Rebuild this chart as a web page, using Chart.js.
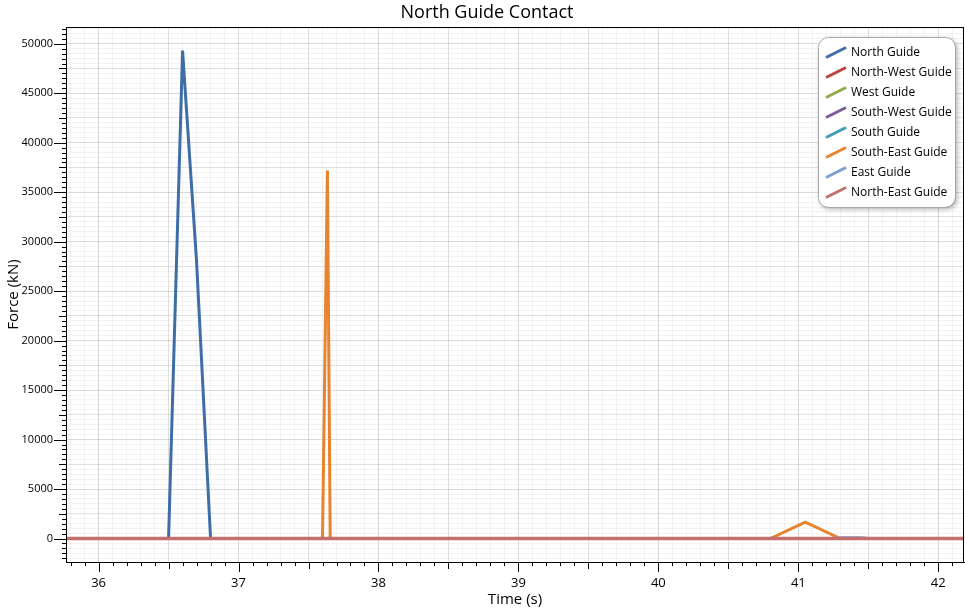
<!DOCTYPE html>
<html>
<head>
<meta charset="utf-8">
<script src="https://cdn.jsdelivr.net/npm/chart.js@4.4.1/dist/chart.umd.min.js"></script>
<style>
  html, body { margin: 0; padding: 0; background: #fff; }
  #wrap { width: 965px; height: 610px; position: relative; }
</style>
</head>
<body>
<div id="wrap"><canvas id="myChart"></canvas></div>
<script>
// series names and colours
const seriesNames = ["North Guide", "North-West Guide", "West Guide", "South-West Guide",
  "South Guide", "South-East Guide", "East Guide", "North-East Guide"];
const seriesColors = ["#3F6DA8", "#B94442", "#8FAA4A", "#7A5C99",
  "#3D9DB5", "#E8832F", "#7B9FD0", "#C46E6E"];

// time (s) / force (kN)
const northTime = [35.7, 36.5, 36.6, 36.7, 36.8, 42.3];
const northForce = [0, 0, 49300, 28000, 0, 0];
const southEastTime = [35.7, 37.6, 37.635, 37.655, 40.8, 41.05, 41.3, 42.3];
const southEastForce = [0, 0, 37200, 0, 0, 1650, 0, 0];
const eastTime = [35.7, 41.28, 41.3, 41.45, 41.5, 42.3];
const eastForce = [0, 0, 90, 90, 0, 0];
const flatTime = [35.7, 42.3];
const flatForce = [0, 0];

// axis ranges and tick steps
const xMin = 35.767, xMax = 42.184;
const yMin = -2370, yMax = 51690;
const xStep = 0.1;   // minor; 0.5 medium; 1 labelled
const yStep = 500;   // minor; 2500 medium; 5000 labelled

const toPoints = (t, f) => t.map((x, i) => ({ x: x, y: f[i] }));

const seriesData = [
  toPoints(northTime, northForce),
  toPoints(flatTime, flatForce),
  toPoints(flatTime, flatForce),
  toPoints(flatTime, flatForce),
  toPoints(flatTime, flatForce),
  toPoints(southEastTime, southEastForce),
  toPoints(eastTime, eastForce),
  toPoints(flatTime, flatForce),
];

const FONT = "'Open Sans', 'Noto Sans', sans-serif";

const xLevel = (v) => {
  const r = Math.round(v * 10);
  if (r % 10 === 0) return 3;
  if (r % 5 === 0) return 2;
  return 1;
};
const yLevel = (v) => {
  const r = Math.round(v);
  if (r % 5000 === 0) return 3;
  if (r % 2500 === 0) return 2;
  return 1;
};
const gridColors = ["rgba(0,0,0,0)", "rgba(0,0,0,0.045)", "rgba(0,0,0,0.12)", "rgba(0,0,0,0.14)"];

// ticks at every multiple of the step inside the range
const stepTicks = (min, max, step) => {
  const out = [];
  for (let k = Math.ceil(min / step); k * step <= max; k++) {
    out.push({ value: Math.round(k * step * 1000) / 1000 });
  }
  return out;
};

const extras = {
  id: "extras",
  afterDraw(chart) {
    const ctx = chart.ctx;
    const a = chart.chartArea;
    const xs = chart.scales.x, ys = chart.scales.y;
    ctx.save();

    // frame
    ctx.strokeStyle = "#000";
    ctx.lineWidth = 1;
    ctx.strokeRect(a.left + 0.5, a.top + 0.5, a.right - a.left - 1, a.bottom - a.top);

    // tick marks
    const xLen = [0, 4, 7, 10];
    xs.ticks.forEach((t) => {
      const lv = xLevel(t.value);
      const px = Math.round(xs.getPixelForValue(t.value)) + 0.5;
      ctx.beginPath();
      ctx.moveTo(px, a.bottom);
      ctx.lineTo(px, a.bottom + xLen[lv]);
      ctx.stroke();
    });
    const yLen = [0, 4, 7, 12];
    ys.ticks.forEach((t) => {
      const lv = yLevel(t.value);
      const py = Math.round(ys.getPixelForValue(t.value)) + 0.5;
      ctx.beginPath();
      ctx.moveTo(a.left, py);
      ctx.lineTo(a.left - yLen[lv], py);
      ctx.stroke();
    });

    // titles
    ctx.fillStyle = "#000";
    ctx.textAlign = "center";
    ctx.textBaseline = "middle";
    ctx.font = "18px " + FONT;
    ctx.fillText("North Guide Contact", 487, 13);
    ctx.font = "15px " + FONT;
    ctx.fillText("Time (s)", (a.left + a.right) / 2, 600);
    ctx.save();
    ctx.translate(14, (a.top + a.bottom) / 2);
    ctx.rotate(-Math.PI / 2);
    ctx.fillText("Force (kN)", 0, 0);
    ctx.restore();

    // legend box
    const bx = 818, by = 37, bw = 137, bh = 170;
    ctx.save();
    ctx.shadowColor = "rgba(0,0,0,0.35)";
    ctx.shadowBlur = 5;
    ctx.shadowOffsetX = 2;
    ctx.shadowOffsetY = 2;
    ctx.beginPath();
    ctx.roundRect(bx, by, bw, bh, 10);
    ctx.fillStyle = "#fff";
    ctx.fill();
    ctx.restore();
    ctx.beginPath();
    ctx.roundRect(bx + 0.5, by + 0.5, bw, bh, 10);
    ctx.strokeStyle = "#a8a8a8";
    ctx.lineWidth = 1;
    ctx.stroke();

    ctx.textAlign = "left";
    ctx.font = "12px " + FONT;
    chart.data.datasets.forEach((ds, i) => {
      const cy = 52.5 + i * 20;
      ctx.beginPath();
      ctx.moveTo(826, cy + 5);
      ctx.lineTo(846, cy - 5);
      ctx.strokeStyle = ds.borderColor;
      ctx.lineWidth = 3;
      ctx.stroke();
      ctx.fillStyle = "#000";
      ctx.fillText(ds.label, 851, cy);
    });
    ctx.restore();
  },
};

new Chart(document.getElementById("myChart"), {
  type: "line",
  data: {
    datasets: seriesNames.map((name, i) => ({
      label: name,
      data: seriesData[i],
      borderColor: seriesColors[i],
      backgroundColor: seriesColors[i],
      borderWidth: i === 7 ? 3.5 : 3,
      pointRadius: 0,
      tension: 0,
      order: 8 - i,
    })),
  },
  options: {
    responsive: true,
    maintainAspectRatio: false,
    animation: false,
    layout: { padding: { top: 27, right: 1, left: 0, bottom: 0 } },
    plugins: { legend: { display: false }, tooltip: { enabled: false }, title: { display: false } },
    scales: {
      x: {
        type: "linear",
        min: xMin,
        max: xMax,
        afterBuildTicks: (s) => { s.ticks = stepTicks(xMin, xMax, xStep); },
        afterFit: (s) => { s.height = 48; },
        border: { display: true, color: "#000", width: 1 },
        grid: {
          drawTicks: true,
          tickLength: 10,
          tickColor: "rgba(0,0,0,0)",
          color: (c) => (c.tick ? gridColors[xLevel(c.tick.value)] : gridColors[0]),
        },
        ticks: {
          autoSkip: false,
          maxRotation: 0,
          padding: 3,
          color: "#000",
          font: { family: FONT, size: 13 },
          callback: (v) => (xLevel(v) === 3 ? String(Math.round(v)) : ""),
        },
      },
      y: {
        type: "linear",
        min: yMin,
        max: yMax,
        afterBuildTicks: (s) => { s.ticks = stepTicks(yMin, yMax, yStep); },
        afterFit: (s) => { s.width = 66; },
        border: { display: true, color: "#000", width: 1 },
        grid: {
          drawTicks: true,
          tickLength: 12,
          tickColor: "rgba(0,0,0,0)",
          color: (c) => (c.tick ? gridColors[yLevel(c.tick.value)] : gridColors[0]),
        },
        ticks: {
          autoSkip: false,
          padding: 1,
          color: "#000",
          font: { family: FONT, size: 11 },
          callback: (v) => (yLevel(v) === 3 ? String(Math.round(v)) : ""),
        },
      },
    },
  },
  plugins: [extras],
});
</script>
</body>
</html>
